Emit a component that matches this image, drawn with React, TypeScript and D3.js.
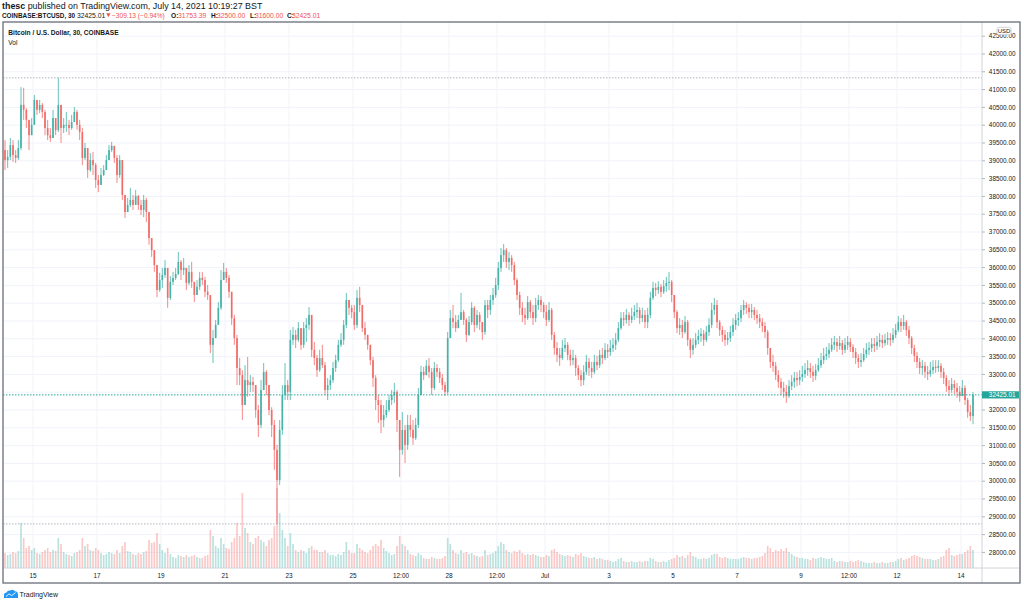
import React from "react";
import * as d3 from "d3";

// ---- data: 2-hour candles, BTCUSD (Coinbase), from 14 Jun 2021 00:00 ----
const START_UTC = Date.UTC(2021, 5, 14, 0, 0);
const CANDLE_HOURS = 2;
const FIRST_OPEN = 39440;

const CLOSES = [
  39300, 39020, 39110, 39440, 39160, 39080, 39360, 40570, 40430, 40150, 39720, 40010,
  40710, 40430, 40570, 40370, 39920, 39720, 39640, 40200, 39860, 40570, 39920, 40010,
  40010, 39920, 40090, 40370, 40010, 39810, 39080, 39360, 38740, 39020, 38880, 38460,
  38320, 38600, 38740, 39020, 39300, 39420, 39080, 38600, 39020, 38040, 37560, 37760,
  37900, 37760, 38010, 37760, 37620, 37900, 37560, 36830, 36490, 36070, 35370, 35650,
  35790, 35990, 35150, 35600, 35710, 35820, 36160, 35930, 35990, 35570, 35880, 35600,
  35230, 35460, 35710, 35650, 35320, 35230, 33830, 34020, 34390, 34870, 35650, 35880,
  35710, 35320, 34580, 34020, 33180, 32980, 32140, 32840, 32700, 32790, 32700, 32000,
  31580, 32560, 33070, 32700, 32000, 31580, 30880, 30030, 31440, 32420, 32700, 32510,
  33970, 34110, 33970, 34300, 33830, 34300, 34390, 34670, 33690, 33460, 33120, 33460,
  33260, 32560, 32700, 32840, 33180, 33400, 33830, 33970, 34390, 35090, 34870, 34750,
  34390, 35150, 34950, 34300, 34110, 33830, 33400, 32900, 32280, 32140, 31720, 31860,
  32000, 32280, 32420, 32510, 31720, 30880, 31440, 31020, 31580, 31440, 31210, 31580,
  32420, 33070, 32980, 33240, 33070, 32620, 33180, 33070, 32900, 32700, 32510, 34020,
  34580, 34470, 34300, 34530, 34750, 34530, 34110, 34470, 34870, 34390, 34670, 34470,
  34190, 34950, 34810, 35090, 35230, 35510, 35990, 36350, 36490, 36160, 36270, 36070,
  35650, 35230, 34870, 34670, 34580, 35030, 34750, 34580, 34950, 35090, 34950, 34750,
  34530, 34810, 34110, 33740, 33550, 33460, 33740, 33830, 33550, 33400, 33460, 33180,
  32980, 32840, 33070, 33350, 33180, 33070, 33350, 33260, 33550, 33460, 33690, 33630,
  33740, 33830, 33970, 34300, 34580, 34530, 34670, 34530, 34640, 34750, 34810, 34580,
  34670, 34470, 34670, 35150, 35430, 35370, 35460, 35320, 35480, 35570, 35600, 35230,
  34750, 34300, 34390, 34190, 34470, 33970, 33690, 33830, 33970, 34080, 34140, 33970,
  34190, 34390, 34810, 34950, 34470, 34250, 34110, 33970, 34020, 34190, 34390, 34530,
  34580, 34810, 34950, 34870, 34750, 34810, 34670, 34580, 34470, 34360, 34190, 33740,
  33350, 33240, 32980, 32790, 32620, 32510, 32390, 32670, 32790, 32900, 32840, 32930,
  33010, 33120, 33180, 33070, 32960, 33120, 33260, 33400, 33520, 33570, 33690, 33830,
  33910, 33800, 33880, 33690, 33830, 33910, 33770, 33630, 33460, 33350, 33400, 33570,
  33690, 33740, 33850, 33800, 33910, 33970, 33880, 33970, 34020, 33970, 34110, 34250,
  34470, 34360, 34470, 34250, 34020, 33740, 33520, 33350, 33180, 33240, 33070, 33010,
  33120, 33210, 33180, 33240, 33070, 32900, 32670, 32560, 32730, 32620, 32510, 32390,
  32620, 32280, 31940, 31830, 32425.01,
];

const HIGHS = [
  39810, 39580, 39300, 39640, 39580, 39300, 39580, 41070, 41050, 40480, 40150, 40200,
  40850, 40620, 40710, 40620, 40430, 40150, 39920, 40430, 40200, 41330, 40570, 40200,
  40370, 40150, 40290, 40510, 40430, 40150, 39920, 39500, 39360, 39220, 39250, 38940,
  38600, 38800, 38880, 39160, 39440, 39530, 39360, 39160, 39160, 39020, 38040, 37960,
  38240, 38040, 38180, 38040, 37900, 38040, 37960, 37560, 36830, 36490, 36070, 35850,
  35990, 36210, 35990, 35760, 35880, 35990, 36440, 36210, 36270, 35990, 36070, 36160,
  35570, 35650, 35880, 35880, 35740, 35510, 35230, 34250, 34530, 35030, 35930, 36130,
  35990, 35790, 35320, 34670, 34110, 33460, 33120, 33260, 33490, 32980, 32930, 32700,
  32140, 32840, 33320, 33120, 32700, 32080, 31720, 31020, 31720, 32700, 33320, 32840,
  34250, 34330, 34250, 34470, 34300, 34470, 34580, 34890, 34670, 33910, 33550, 33690,
  33830, 33350, 32900, 32980, 33350, 33550, 33970, 34160, 34530, 35290, 35090, 34950,
  34950, 35370, 35460, 34950, 34470, 34110, 33830, 33490, 32980, 32420, 32280, 32140,
  32280, 32420, 32560, 32760, 32560, 31720, 31940, 31580, 31860, 31860, 31720, 31780,
  32620, 33240, 33210, 33400, 33460, 33180, 33350, 33290, 33180, 33010, 32790, 34190,
  34810, 34950, 34670, 34670, 35290, 34810, 34580, 34640, 35030, 34920, 34810, 34750,
  34470, 35090, 35090, 35230, 35430, 35710, 36160, 36550, 36660, 36550, 36440, 36350,
  36160, 35710, 35320, 35030, 34870, 35200, 35090, 34950, 35150, 35230, 35200, 35030,
  34950, 35030, 34870, 34190, 33910, 33740, 33970, 34020, 33910, 33690, 33690, 33550,
  33260, 33120, 33260, 33550, 33460, 33350, 33550, 33520, 33690, 33740, 33880, 33850,
  33970, 34020, 34160, 34470, 34750, 34750, 34840, 34750, 34870, 34950, 35010, 34890,
  34870, 34810, 34870, 35320, 35600, 35570, 35620, 35540, 35650, 35740, 35880, 35650,
  35150, 34810, 34580, 34530, 34640, 34530, 34020, 34020, 34160, 34250, 34300, 34250,
  34360, 34580, 35010, 35150, 35090, 34530, 34360, 34250, 34190, 34360, 34580, 34700,
  34750, 34950, 35090, 35030, 34980, 34980, 34890, 34810, 34700, 34580, 34470, 34250,
  33740, 33550, 33350, 33120, 32900, 32790, 32700, 32840, 32980, 33070, 33070, 33120,
  33240, 33320, 33400, 33320, 33240, 33290, 33460, 33600, 33740, 33770, 33880, 34020,
  34080, 34020, 34080, 33970, 34020, 34080, 34020, 33850, 33740, 33570, 33600, 33740,
  33880, 33910, 34020, 34020, 34080, 34160, 34110, 34140, 34190, 34160, 34300, 34420,
  34640, 34580, 34670, 34530, 34360, 34080, 33830, 33630, 33460, 33400, 33350, 33240,
  33350, 33400, 33400, 33400, 33320, 33180, 32980, 32840, 32900, 32840, 32760, 32670,
  32840, 32700, 32340, 32140, 32500,
];

const LOWS = [
  39020, 38740, 38800, 39020, 38970, 38940, 39020, 39300, 40150, 39920, 39300, 39720,
  40230, 40290, 40340, 40200, 39720, 39580, 39530, 39920, 39720, 39810, 39500, 39780,
  39810, 39720, 39870, 40150, 39870, 39580, 38880, 39020, 38520, 38690, 38600, 38240,
  38120, 38320, 38570, 38740, 39020, 39250, 38940, 38380, 38520, 37900, 37390, 37560,
  37700, 37620, 37760, 37620, 37480, 37420, 37280, 36640, 36300, 35880, 35170, 35320,
  35430, 35710, 34870, 35090, 35510, 35650, 35790, 35650, 35790, 35370, 35510, 35430,
  35030, 35230, 35370, 35510, 35170, 35090, 33600, 33320, 34050, 34390, 34810, 35650,
  35570, 35150, 34390, 33830, 32700, 32700, 31720, 32140, 32370, 32510, 32510, 31780,
  31240, 31490, 32620, 32420, 31860, 31240, 30320, 28800, 29890, 31300, 32280, 32280,
  32280, 33830, 33740, 33910, 33690, 33740, 33910, 34250, 33490, 33260, 32930, 33070,
  33180, 32420, 32280, 32560, 32760, 33070, 33350, 33770, 33830, 34300, 34670, 34580,
  34250, 34300, 34750, 34190, 33970, 33690, 33260, 32650, 32000, 31640, 31350, 31520,
  31780, 31940, 32140, 32200, 31380, 30120, 30740, 30510, 30880, 31240, 31020, 31160,
  31490, 32420, 32840, 33010, 32900, 32420, 32560, 32930, 32760, 32560, 32390, 32450,
  34020, 34300, 34190, 34300, 34530, 34390, 33910, 34080, 34390, 34190, 34300, 34250,
  33970, 34110, 34580, 34670, 34950, 35150, 35370, 35880, 36160, 35990, 35930, 35880,
  35510, 35090, 34670, 34470, 34390, 34530, 34580, 34390, 34470, 34810, 34750, 34580,
  34360, 34470, 33970, 33550, 33350, 33240, 33400, 33630, 33400, 33240, 33260, 32960,
  32840, 32670, 32700, 32980, 32960, 32900, 33010, 33120, 33180, 33290, 33400, 33460,
  33520, 33630, 33690, 33910, 34250, 34360, 34420, 34360, 34440, 34530, 34580, 34420,
  34470, 34300, 34300, 34580, 35090, 35200, 35260, 35170, 35260, 35320, 35370, 35030,
  34580, 34160, 34110, 34020, 34140, 33800, 33460, 33550, 33740, 33850, 33910, 33800,
  33910, 34080, 34300, 34670, 34300, 34080, 33910, 33800, 33830, 33910, 34080, 34250,
  34360, 34470, 34670, 34700, 34580, 34580, 34530, 34420, 34300, 34190, 34020, 33550,
  33180, 33070, 32840, 32620, 32420, 32340, 32200, 32340, 32560, 32620, 32670, 32700,
  32790, 32900, 32960, 32900, 32790, 32840, 33070, 33180, 33290, 33400, 33460, 33630,
  33690, 33630, 33690, 33550, 33600, 33690, 33630, 33460, 33290, 33180, 33210, 33350,
  33460, 33550, 33630, 33630, 33690, 33770, 33740, 33800, 33830, 33800, 33880, 34020,
  34190, 34190, 34250, 34080, 33850, 33570, 33350, 33180, 33010, 32980, 32900, 32840,
  32930, 33010, 33040, 33070, 32900, 32730, 32510, 32390, 32480, 32450, 32340, 32230,
  32390, 32140, 31780, 31690, 31600,
];

const VOLUMES = [
  1800, 1500, 1300, 1400, 1600, 1500, 1700, 4500, 3000, 2000, 2200, 1800,
  2000, 1500, 1400, 1600, 1800, 2000, 1600, 1800, 1700, 3000, 2400, 1600,
  1400, 1300, 1200, 1500, 1600, 1800, 3000, 2200, 2400, 1800, 1700, 2000,
  1800, 1500, 1300, 1400, 1600, 1500, 1400, 1800, 1500, 2200, 2600, 1700,
  1600, 1400, 1300, 1500, 1400, 1600, 1700, 2800, 2500, 2600, 3500, 2400,
  1800, 1500, 2000, 1400, 1100, 1000, 1300, 1200, 1100, 1300, 1100, 1200,
  1300, 1100, 1000, 1000, 1200, 1300, 3800, 3200, 2200, 2000, 3000, 2400,
  2000, 1900, 2600, 3000, 4500, 3200, 7500, 4000, 3500, 2600, 2400, 3000,
  3200, 2800, 2600, 2200, 2800, 3000, 4200, 8000, 5500, 3800, 3000, 2200,
  3500, 2400, 1800, 1600, 1800, 1700, 1500, 2000, 2200, 1800, 1800, 1600,
  1600, 1800, 1500, 1300, 1300, 1200, 1400, 1300, 1600, 2600, 1800, 1500,
  1500, 2400, 2000, 1800, 1600, 1500, 1800, 2200, 2400, 2200, 2800, 2000,
  1700, 1500, 1300, 1400, 2200, 3200, 2400, 2200, 1800, 1400, 1300, 1200,
  1500, 1300, 1000, 900, 900, 1100, 1000, 900, 900, 1000, 1200, 3000,
  2400, 1800, 1500, 1400, 1800, 1500, 1600, 1400, 1500, 1300, 1200, 1100,
  1200, 1800, 1300, 1400, 1500, 1700, 2200, 2600, 2400, 1800, 1600, 1500,
  1700, 1600, 1800, 1500, 1300, 1400, 1300, 1400, 1300, 1200, 1100, 1100,
  1300, 1200, 1800, 1900, 1600, 1400, 1300, 1200, 1300, 1200, 1100, 1400,
  1300, 1500, 1200, 1100, 1000, 1000, 1100, 900, 1000, 900, 800, 800,
  700, 600, 700, 900, 1000, 700, 600, 600, 700, 600, 600, 700,
  600, 700, 700, 1000, 900, 700, 600, 600, 700, 600, 800, 900,
  1000, 1300, 1100, 1200, 1000, 1300, 1600, 1200, 1100, 900, 900, 1000,
  900, 1000, 1300, 1400, 1400, 1100, 1000, 1100, 1000, 900, 900, 900,
  900, 1000, 1100, 1000, 1000, 900, 1000, 1000, 1100, 1200, 1500, 2200,
  2000, 1600, 1800, 1700, 1900, 1700, 2000, 1600, 1400, 1200, 1100, 1000,
  1000, 900, 900, 800, 1000, 900, 1000, 1100, 1000, 900, 900, 1000,
  700, 600, 700, 700, 600, 600, 700, 600, 700, 800, 700, 600,
  500, 500, 500, 600, 500, 500, 600, 500, 500, 600, 600, 700,
  900, 1000, 800, 900, 1000, 1200, 1300, 1200, 1100, 1000, 900, 900,
  900, 800, 800, 900, 1100, 1200, 1800, 2000, 1300, 1200, 1300, 1400,
  1400, 1600, 1800, 2200, 1800,
];

const PRICE_TICKS = d3.range(28000, 42501, 500);
const TIME_TICK_DATES = [
  Date.UTC(2021, 5, 15), Date.UTC(2021, 5, 17), Date.UTC(2021, 5, 19), Date.UTC(2021, 5, 21),
  Date.UTC(2021, 5, 23), Date.UTC(2021, 5, 25), Date.UTC(2021, 5, 26, 12), Date.UTC(2021, 5, 28),
  Date.UTC(2021, 5, 29, 12), Date.UTC(2021, 6, 1), Date.UTC(2021, 6, 3), Date.UTC(2021, 6, 5),
  Date.UTC(2021, 6, 7), Date.UTC(2021, 6, 9), Date.UTC(2021, 6, 10, 12), Date.UTC(2021, 6, 12),
  Date.UTC(2021, 6, 14),
];
const TIME_TICK_LABELS = ["15", "17", "19", "21", "23", "25", "12:00", "28", "12:00", "Jul", "3", "5", "7", "9", "12:00", "12", "14"];

const LAST_PRICE = 32425.01;
const CHANGE_TEXT = "−309.13 (−0.94%)";
const HEADER_OHLC = [["O:", "31753.39"], ["H:", "32500.00"], ["L:", "31600.00"], ["C:", "32425.01"]];

const UP = "#26a69a";
const DOWN = "#ef5350";
const FONT = "'Liberation Sans', Arial, sans-serif";

export default function App() {
  const W = 1024, H = 604;
  const plot = { left: 3, right: 982, top: 22, bottom: 568 };

  const x = d3.scaleUtc()
    .domain([new Date(Date.UTC(2021, 5, 14)), new Date(Date.UTC(2021, 6, 14))])
    .range([1, 961]);
  const y = d3.scaleLinear().domain([28000, 42000]).range([552.4, 54]);
  const yVol = d3.scaleLinear().domain([0, 10000]).range([568, 468]);

  const ms = CANDLE_HOURS * 3600e3;
  const candles = CLOSES.map((c, i) => {
    const o = i === 0 ? FIRST_OPEN : CLOSES[i - 1];
    return {
      t: new Date(START_UTC + (i + 0.5) * ms),
      o, c,
      h: Math.max(HIGHS[i], o, c),
      l: Math.min(LOWS[i], o, c),
      v: VOLUMES[i],
    };
  });
  const step = x(new Date(START_UTC + ms)) - x(new Date(START_UTC));
  const bw = step * 0.62;
  const hiLine = d3.max(candles, (d) => d.h) as number;
  const loLine = d3.min(candles, (d) => d.l) as number;
  const yLast = y(LAST_PRICE);
  const ohlcX = [[171, 178], [211, 217], [250, 255], [287, 292]];

  return (
    <svg width={W} height={H} style={{ position: "absolute", left: 0, top: 0, background: "#fff" }}
      fontFamily={FONT}>
      <defs>
        <clipPath id="plotclip">
          <rect x={plot.left} y={plot.top} width={plot.right - plot.left} height={plot.bottom - plot.top} />
        </clipPath>
      </defs>
      <rect x={0} y={0} width={W} height={H} fill="#fff" />

      {/* header */}
      <text x={2} y={9} fontSize={8.9} fill="#131722">
        <tspan fontWeight="bold">thesc</tspan>
        <tspan> published on TradingView.com, July 14, 2021 10:19:27 BST</tspan>
      </text>
      <text x={2} y={17.8} fontSize={6.4} fontWeight="bold" fill="#131722">COINBASE:BTCUSD, 30</text>
      <text x={77} y={17.8} fontSize={6.8} fill="#131722">{LAST_PRICE.toFixed(2)}</text>
      <path d="M106.3,13.2 L110.5,13.2 L108.4,17.3 Z" fill={DOWN} />
      <text x={112} y={17.8} fontSize={6.6} fill={DOWN}>{CHANGE_TEXT}</text>
      {HEADER_OHLC.map(([k, v], i) => (
        <g key={k}>
          <text x={ohlcX[i][0]} y={17.8} fontSize={6.6} fontWeight="bold" fill="#131722">{k}</text>
          <text x={ohlcX[i][1]} y={17.8} fontSize={6.8} fill={DOWN}>{v}</text>
        </g>
      ))}

      {/* grid */}
      <g stroke="#f0f3fa" strokeWidth={1}>
        {PRICE_TICKS.map((p) => (
          <line key={p} x1={plot.left} x2={plot.right} y1={y(p)} y2={y(p)} />
        ))}
        {TIME_TICK_DATES.map((t) => (
          <line key={t} x1={x(new Date(t))} x2={x(new Date(t))} y1={plot.top} y2={plot.bottom} />
        ))}
      </g>

      <g clipPath="url(#plotclip)">
        {/* volume */}
        {candles.map((d, i) => (
          <rect key={"v" + i} x={x(d.t) - bw / 2} width={bw} y={yVol(d.v)} height={yVol(0) - yVol(d.v)}
            fill={d.c >= d.o ? UP : DOWN} fillOpacity={0.32} />
        ))}
        {/* high / low dotted lines */}
        <line x1={plot.left} x2={plot.right} y1={y(hiLine)} y2={y(hiLine)} stroke="#b2b5be" strokeDasharray="1.5,1.5" />
        <line x1={plot.left} x2={plot.right} y1={y(loLine)} y2={y(loLine)} stroke="#b2b5be" strokeDasharray="1.5,1.5" />
        {/* candles */}
        {candles.map((d, i) => {
          const col = d.c >= d.o ? UP : DOWN;
          const cx = x(d.t);
          const top = y(Math.max(d.o, d.c));
          const bot = y(Math.min(d.o, d.c));
          return (
            <g key={"c" + i} opacity={0.85}>
              <line x1={cx} x2={cx} y1={y(d.h)} y2={y(d.l)} stroke={col} strokeWidth={0.8} />
              <rect x={cx - bw / 2} width={bw} y={top} height={Math.max(0.8, bot - top)} fill={col} />
            </g>
          );
        })}
        {/* last price line */}
        <line x1={plot.left} x2={plot.right} y1={yLast} y2={yLast} stroke={UP} strokeDasharray="1.5,1.5" />
      </g>

      {/* legend */}
      <text x={8.3} y={35} fontSize={6.6} fontWeight="bold" fill="#131722">Bitcoin / U.S. Dollar, 30, COINBASE</text>
      <text x={8.3} y={44.6} fontSize={6.6} fill="#131722">Vol</text>

      {/* axes separators */}
      <line x1={plot.right} x2={plot.right} y1={plot.top} y2={583} stroke="#d1d4dc" />
      <line x1={plot.left} x2={1020} y1={plot.bottom} y2={plot.bottom} stroke="#d1d4dc" />

      {/* price axis */}
      {PRICE_TICKS.filter((p) => Math.abs(y(p) - yLast) > 6).map((p) => (
        <g key={"pt" + p}>
          <line x1={plot.right} x2={plot.right + 3} y1={y(p)} y2={y(p)} stroke="#b2b5be" />
          <text x={1015.5} y={y(p)} dy="0.35em" textAnchor="end" fontSize={6.4} fill="#131722">{p.toFixed(2)}</text>
        </g>
      ))}
      <rect x={997} y={27.3} width={14} height={7.4} rx={1.5} fill="#fff" stroke="#b2b5be" strokeWidth={0.6} />
      <text x={1004} y={31} dy="0.35em" textAnchor="middle" fontSize={6} fill="#131722">USD</text>
      <rect x={plot.right} y={yLast - 3.6} width={37} height={7.2} fill={UP} />
      <text x={1015.5} y={yLast} dy="0.35em" textAnchor="end" fontSize={6.4} fill="#fff">{LAST_PRICE.toFixed(2)}</text>

      {/* time axis */}
      {TIME_TICK_DATES.map((t, i) => (
        <text key={"tt" + t} x={x(new Date(t))} y={578.3} textAnchor="middle" fontSize={6.4} fill="#131722">
          {TIME_TICK_LABELS[i]}
        </text>
      ))}

      {/* frame */}
      <rect x={3} y={22} width={1017} height={561} fill="none" stroke="#6a6d78" strokeWidth={1.3} />

      {/* TradingView logo */}
      <path d="M4,598 L4,595.2 Q4,592.6 6.6,592.6 Q7.6,589.8 10.4,590.6 Q12.6,588.6 14.8,591.2 Q18,591.2 18,594.6 L18,598 Z" fill="#2196f3" />
      <polyline points="6,596.6 9,593.8 11.6,595.6 15.6,592.6" fill="none" stroke="#fff" strokeWidth={0.9} />
      <text x={19.5} y={596.6} fontSize={7} fill="#131722">TradingView</text>
    </svg>
  );
}
